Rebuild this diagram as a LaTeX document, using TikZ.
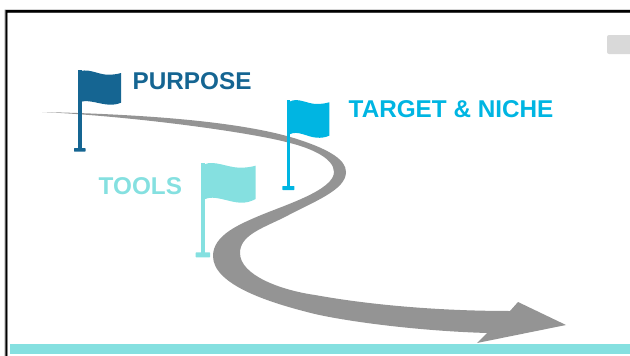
\documentclass[tikz,border=0pt]{standalone}
\usepackage{fontspec}
\setmainfont{Liberation Sans}
\definecolor{roadgray}{HTML}{949494}
\definecolor{darkblue}{HTML}{156592}
\definecolor{midblue}{HTML}{00B5E2}
\definecolor{lightteal}{HTML}{85E0E0}
\definecolor{tabgray}{HTML}{D9D9D9}
\begin{document}
\begin{tikzpicture}
[
	x = 1pt, y = -1pt,
	tag/.style = {anchor = base west, inner sep = 0pt, font = \fontsize{24.3}{24}\selectfont\bfseries},
	road/.style = {fill = roadgray},
]
	\useasboundingbox (0,0) rectangle (630,356);

	% frame
	\fill [black!45] (4.7,356) -- (4.7,9.7) -- (630,9.7) -- (630,12.5) -- (7.3,12.5) -- (7.3,356) -- cycle;
	\fill [black] (5.5,356) -- (5.5,10.2) -- (630,10.2) -- (630,12.5) -- (7.3,12.5) -- (7.3,356) -- cycle;
	% footer and tab
	\fill [lightteal] (10,344) rectangle (630,354);
	\fill [tabgray, rounded corners = 2pt] (607,35) rectangle (640,54);

	% road
	\fill [road] (42,112) .. controls (130,114) and (240,120) .. (300,140)
	.. controls (330,150) and (346,160) .. (346,172)
	.. controls (346,190) and (315,201) .. (283,218)
	.. controls (260,229) and (240,236) .. (240,253)
	.. controls (240,275) and (280,290) .. (315,295)
	.. controls (370,305) and (440,311) .. (510,311)
	-- (518,302) -- (566,325) -- (477,343) -- (487,333)
	.. controls (420,331) and (350,322) .. (315,314)
	.. controls (270,303) and (213,285) .. (213,256)
	.. controls (213,235) and (240,224) .. (260,215.5)
	.. controls (285,205) and (334,190) .. (334,172)
	.. controls (334,158) and (310,148) .. (290,143)
	.. controls (250,132) and (130,116) .. (42,112) -- cycle;

	% purpose
	\fill [darkblue] (78.3,70) rectangle (81.6,150);
	\fill [darkblue, rounded corners = 0.5pt] (74,148) rectangle (85.5,151.5);
	\fill [darkblue] (81,71) .. controls (90,68.5) and (100,75.5) .. (110,74.7) .. controls (114,74.5) and (118,74) .. (121,73)
	-- (121,102.7) .. controls (118,104) and (114,104.8) .. (110,104.7) .. controls (100,104.5) and (90,99.5) .. (81,101.7) -- cycle;
	\node (PU) [tag, text = darkblue] at (132.5,89) {PURPOSE};

	% target
	\fill [midblue] (287.3,100) rectangle (290,188);
	\fill [midblue, rounded corners = 0.5pt] (282.3,186) rectangle (294.3,190);
	\fill [midblue] (289.5,101.7) .. controls (298,97) and (307,104) .. (316.7,104) .. controls (321,104) and (325,103.5) .. (329.3,102.3)
	-- (329.3,135.7) .. controls (325,137.5) and (321,138) .. (316.7,137.7) .. controls (307,137) and (298,130) .. (289.5,134.3) -- cycle;
	\node (TN) [tag, text = midblue] at (348.5,117) {TARGET \& NICHE};

	% tools
	\fill [lightteal] (201,163) rectangle (205,255);
	\fill [lightteal, rounded corners = 0.5pt] (195.7,252.3) rectangle (210,257.3);
	\fill [lightteal] (204.5,164.3) .. controls (214,160) and (228,167.7) .. (240,167.7) .. controls (246,167.7) and (251,167) .. (255.7,165.7)
	-- (255.7,199) .. controls (251,201.5) and (246,203) .. (240,202.7) .. controls (228,202) and (214,194.5) .. (204.5,199.3) -- cycle;
	\node (TO) [tag, text = lightteal] at (98.5,194) {TOOLS};

\end{tikzpicture}
\end{document}
